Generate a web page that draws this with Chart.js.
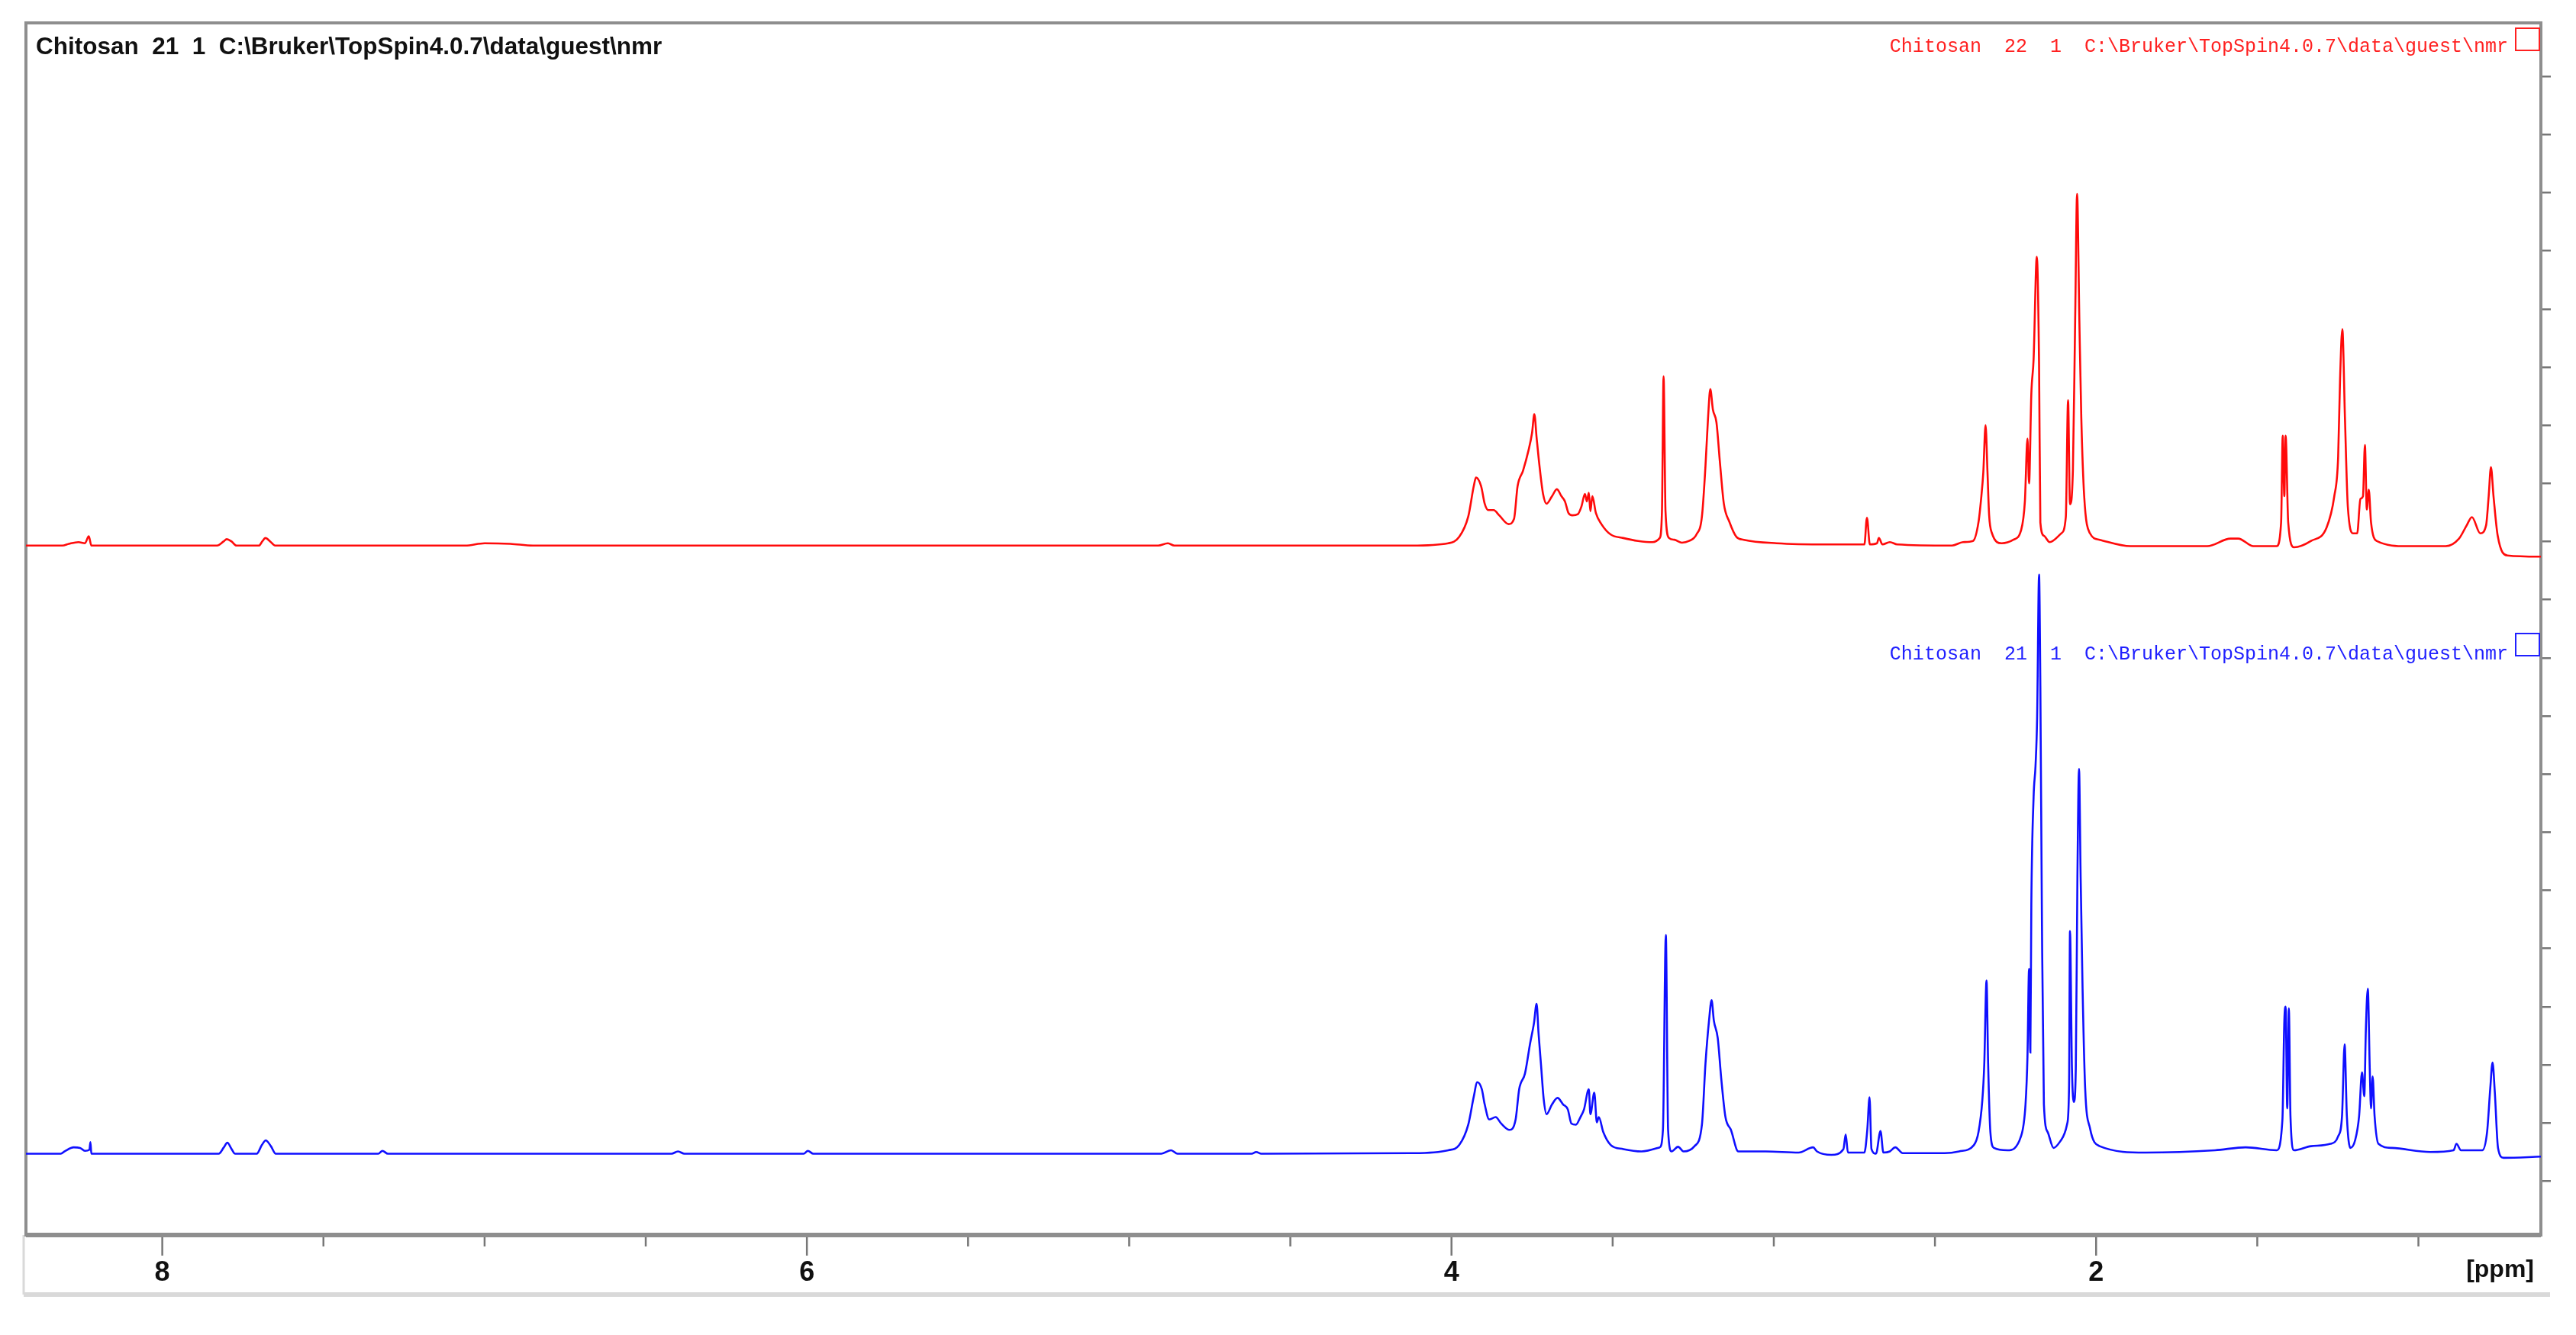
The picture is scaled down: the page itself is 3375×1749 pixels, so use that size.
<!DOCTYPE html>
<html lang="en">
<head>
<meta charset="UTF-8">
<title>Chitosan 1H NMR</title>
<script src="https://cdn.jsdelivr.net/npm/chart.js@4.4.0/dist/chart.umd.min.js"></script>
<style>
  html, body { margin: 0; padding: 0; background: #fff; }
</style>
</head>
<body>
<canvas id="nmr-chart" width="3375" height="1749"></canvas>
<script>
// spectrum of sample 22 (red, upper trace) - chemical shift in ppm, intensity in axis units
const redPpm = [8.423, 8.31, 8.29, 8.26, 8.24, 8.228, 8.22, 7.83, 7.81, 7.80, 7.785, 7.77, 7.70, 7.69, 7.68, 7.665, 7.65,
  7.06, 7.00, 6.92, 6.85, 4.91, 4.88, 4.86,
  4.124, 4.010, 3.976, 3.948, 3.931, 3.924, 3.908, 3.897, 3.886, 3.869, 3.852, 3.823, 3.806, 3.795, 3.778, 3.761,
  3.750, 3.743, 3.736, 3.727, 3.716, 3.705, 3.688, 3.673, 3.659, 3.648, 3.637, 3.625, 3.608, 3.597, 3.586, 3.580,
  3.574, 3.569, 3.563, 3.552, 3.535, 3.506, 3.467, 3.421, 3.376, 3.354, 3.347, 3.342, 3.336, 3.325, 3.308, 3.285,
  3.263, 3.240, 3.223, 3.212, 3.204, 3.197, 3.189, 3.178, 3.167, 3.155, 3.138, 3.116, 3.093, 2.991, 2.832, 2.719,
  2.711, 2.702, 2.680, 2.674, 2.663, 2.640, 2.617, 2.447, 2.413, 2.382, 2.365, 2.356, 2.350, 2.343, 2.337, 2.332,
  2.323, 2.293, 2.257, 2.233, 2.221, 2.213, 2.208, 2.201, 2.194, 2.184, 2.177, 2.173, 2.162, 2.144, 2.108, 2.094,
  2.087, 2.081, 2.072, 2.065, 2.059, 2.052, 2.046, 2.037, 2.019, 1.989, 1.893, 1.655, 1.583, 1.559, 1.512, 1.440,
  1.426, 1.421, 1.416, 1.412, 1.404, 1.386, 1.333, 1.285, 1.261, 1.249, 1.243, 1.236, 1.228, 1.219, 1.202, 1.190,
  1.180, 1.172, 1.166, 1.160, 1.154, 1.147, 1.130, 1.035, 0.915, 0.874, 0.850, 0.834, 0.808, 0.790, 0.782, 0.775,
  0.767, 0.754, 0.724, 0.620];
const redInt = [10.93, 10.93, 10.96, 10.99, 10.97, 11.09, 10.93, 10.93, 11.00, 11.04, 11.00, 10.93, 10.93, 11.00, 11.06, 11.00, 10.93,
  10.93, 10.97, 10.96, 10.93, 10.93, 10.97, 10.93,
  10.93, 10.97, 11.08, 11.43, 11.95, 12.10, 11.95, 11.65, 11.54, 11.54, 11.45, 11.30, 11.39, 11.95, 12.22, 12.57,
  12.87, 13.19, 12.79, 12.30, 11.82, 11.65, 11.78, 11.90, 11.78, 11.69, 11.49, 11.45, 11.47, 11.60, 11.82, 11.69,
  11.84, 11.52, 11.78, 11.49, 11.30, 11.12, 11.06, 11.01, 10.99, 11.06, 11.52, 13.84, 11.52, 11.06, 11.03, 10.98,
  11.01, 11.12, 11.43, 12.30, 13.13, 13.62, 13.27, 13.05, 12.35, 11.65, 11.34, 11.08, 11.03, 10.97, 10.95, 10.95,
  11.41, 10.95, 10.97, 11.06, 10.95, 10.99, 10.95, 10.93, 10.99, 11.01, 11.33, 11.78, 12.19, 13.00, 12.19, 11.46,
  11.14, 10.97, 11.03, 11.19, 11.69, 12.77, 12.00, 13.54, 14.13, 15.90, 14.04, 11.33, 11.10, 10.99, 11.14, 11.42,
  13.43, 11.64, 12.23, 14.81, 16.98, 14.81, 13.14, 11.78, 11.14, 11.03, 10.92, 10.92, 11.05, 11.05, 10.92, 10.92,
  11.33, 12.82, 11.78, 12.82, 11.33, 10.90, 11.01, 11.24, 11.78, 12.46, 13.81, 14.65, 13.14, 11.60, 11.14, 11.14,
  11.73, 11.78, 12.66, 11.55, 11.89, 11.33, 11.01, 10.92, 10.92, 11.05, 11.28, 11.42, 11.14, 11.28, 11.78, 12.28,
  11.78, 11.10, 10.76, 10.74];

// spectrum of sample 21 (blue, lower trace)
const bluePpm = [8.423, 8.315, 8.303, 8.275, 8.255, 8.240, 8.226, 8.223, 8.220, 7.825, 7.809, 7.798, 7.786, 7.774,
  7.707, 7.691, 7.679, 7.663, 7.648, 7.33, 7.317, 7.30, 6.42, 6.40, 6.38, 6.01, 5.997, 5.98, 4.90, 4.87, 4.85,
  4.62, 4.606, 4.59,
  4.124, 4.010, 3.976, 3.948, 3.931, 3.920, 3.906, 3.897, 3.883, 3.863, 3.846, 3.820, 3.801, 3.790, 3.772, 3.756,
  3.744, 3.736, 3.730, 3.722, 3.714, 3.705, 3.688, 3.671, 3.654, 3.639, 3.628, 3.614, 3.600, 3.589, 3.574, 3.569,
  3.557, 3.549, 3.543, 3.529, 3.506, 3.467, 3.410, 3.354, 3.344, 3.335, 3.328, 3.317, 3.297, 3.280, 3.246, 3.223,
  3.212, 3.201, 3.193, 3.186, 3.174, 3.163, 3.150, 3.133, 3.110, 3.025, 2.923, 2.878, 2.866, 2.821, 2.784, 2.777,
  2.770, 2.719, 2.710, 2.703, 2.697, 2.683, 2.669, 2.660, 2.640, 2.623, 2.600, 2.470, 2.425, 2.379,
  2.365, 2.353, 2.347, 2.340, 2.335, 2.328, 2.317, 2.275, 2.233, 2.219, 2.213, 2.208, 2.204, 2.201, 2.194, 2.188,
  2.183, 2.177, 2.173, 2.168, 2.162, 2.150, 2.132, 2.108, 2.090, 2.084, 2.081, 2.075, 2.069, 2.063, 2.058, 2.053,
  2.048, 2.042, 2.034, 2.019, 1.989, 1.846, 1.631, 1.536, 1.440, 1.422, 1.416, 1.412, 1.407, 1.402, 1.397, 1.386,
  1.333, 1.273, 1.249, 1.237, 1.229, 1.222, 1.211, 1.196, 1.184, 1.175, 1.168, 1.163, 1.157, 1.151, 1.147, 1.142,
  1.136, 1.124, 1.082, 0.963, 0.891, 0.882, 0.868, 0.802, 0.787, 0.777, 0.770, 0.763, 0.753, 0.736, 0.620];
const blueInt = [0.47, 0.47, 0.51, 0.58, 0.57, 0.52, 0.54, 0.67, 0.47, 0.47, 0.58, 0.66, 0.56, 0.47,
  0.47, 0.62, 0.70, 0.60, 0.47, 0.47, 0.52, 0.47, 0.47, 0.51, 0.47, 0.47, 0.52, 0.47, 0.47, 0.53, 0.47,
  0.47, 0.50, 0.47,
  0.48, 0.53, 0.62, 0.97, 1.45, 1.70, 1.58, 1.32, 1.06, 1.10, 0.99, 0.88, 1.06, 1.58, 1.85, 2.37,
  2.72, 3.05, 2.55, 1.98, 1.41, 1.15, 1.32, 1.43, 1.32, 1.23, 0.99, 0.97, 1.10, 1.23, 1.58, 1.15,
  1.52, 1.01, 1.10, 0.84, 0.62, 0.55, 0.51, 0.58, 0.88, 4.23, 0.88, 0.51, 0.59, 0.51, 0.60, 0.97,
  2.02, 2.76, 3.11, 2.76, 2.46, 1.76, 1.10, 0.88, 0.51, 0.51, 0.49, 0.58, 0.51, 0.45, 0.55, 0.80,
  0.49, 0.49, 0.88, 1.44, 0.55, 0.47, 0.86, 0.49, 0.51, 0.58, 0.48, 0.48, 0.51, 0.62,
  0.84, 1.39, 2.01, 3.45, 2.01, 0.84, 0.57, 0.53, 0.77, 1.32, 2.14, 3.65, 2.21, 4.75, 6.60, 7.14,
  7.97, 10.43, 8.51, 4.40, 1.32, 0.84, 0.57, 0.71, 0.98, 1.60, 4.30, 1.94, 1.36, 1.94, 5.23, 7.09,
  5.23, 3.31, 1.60, 0.91, 0.60, 0.49, 0.53, 0.58, 0.53, 1.05, 2.76, 3.00, 1.25, 2.97, 1.12, 0.53,
  0.60, 0.64, 0.77, 1.12, 2.35, 1.12, 0.57, 0.71, 1.12, 1.87, 1.46, 2.62, 3.31, 1.94, 1.25, 1.80,
  1.12, 0.64, 0.57, 0.50, 0.53, 0.64, 0.53, 0.53, 0.84, 1.60, 2.04, 1.53, 0.57, 0.40, 0.42];

// axis ticks
const ppmTicks = [1, 1.5, 2, 2.5, 3, 3.5, 4, 4.5, 5, 5.5, 6, 6.5, 7, 7.5, 8];
const ppmLabels = [2, 4, 6, 8];
const intTicks = [0, 1, 2, 3, 4, 5, 6, 7, 8, 9, 10, 11, 12, 13, 14, 15, 16, 17, 18, 19];

const titleText = 'Chitosan  21  1  C:\\Bruker\\TopSpin4.0.7\\data\\guest\\nmr';
const redLabel = 'Chitosan  22  1  C:\\Bruker\\TopSpin4.0.7\\data\\guest\\nmr';
const blueLabel = 'Chitosan  21  1  C:\\Bruker\\TopSpin4.0.7\\data\\guest\\nmr';

const toPoints = (xs, ys) => xs.map((x, i) => ({ x: x, y: ys[i] }));

const frameColor = '#8e8e8e';

// frame, ppm ticks and the TopSpin style labels
const topspinDecor = {
  id: 'topspinDecor',
  beforeDatasetsDraw(chart) {
    const c = chart.ctx;
    const a = chart.chartArea;
    const xs = chart.scales.x;
    c.save();
    // light outer border below the axis
    c.strokeStyle = '#d9d9d9';
    c.lineWidth = 6;
    c.beginPath();
    c.moveTo(a.left - 3, a.bottom + 78);
    c.lineTo(a.right + 12, a.bottom + 78);
    c.stroke();
    c.lineWidth = 3;
    c.beginPath();
    c.moveTo(a.left - 3, a.bottom);
    c.lineTo(a.left - 3, a.bottom + 78);
    c.stroke();

    c.strokeStyle = frameColor;
    c.lineWidth = 4;
    c.strokeRect(a.left, a.top, a.right - a.left, a.bottom - a.top);
    c.lineWidth = 6;
    c.beginPath();
    c.moveTo(a.left, a.bottom);
    c.lineTo(a.right, a.bottom);
    c.stroke();

    // ppm ticks, long at labelled values
    c.lineWidth = 2.5;
    c.strokeStyle = '#777';
    ppmTicks.forEach(v => {
      const px = xs.getPixelForValue(v);
      const len = ppmLabels.includes(v) ? 24 : 12;
      c.beginPath();
      c.moveTo(px, a.bottom + 3);
      c.lineTo(px, a.bottom + 3 + len);
      c.stroke();
    });

    c.fillStyle = '#111';
    c.font = 'bold 32px "Liberation Sans", Arial, sans-serif';
    c.textAlign = 'right';
    c.textBaseline = 'middle';
    c.fillText('[ppm]', a.right - 9, a.bottom + 46);

    c.textAlign = 'left';
    c.font = 'bold 31.5px "Liberation Sans", Arial, sans-serif';
    c.fillText(titleText, a.left + 13, a.top + 32);

    c.font = '25px "Liberation Mono", "Courier New", monospace';
    c.textAlign = 'right';
    c.fillStyle = '#ff2020';
    c.fillText(redLabel, a.right - 43, a.top + 31);
    c.strokeStyle = '#ff2020';
    c.lineWidth = 2;
    c.strokeRect(a.right - 33, a.top + 7, 31, 29);

    c.fillStyle = '#2020ff';
    c.fillText(blueLabel, a.right - 43, a.top + 827);
    c.strokeStyle = '#2020ff';
    c.strokeRect(a.right - 33, a.top + 800, 31, 29);
    c.restore();
  }
};

const ctx = document.getElementById('nmr-chart').getContext('2d');
const chart = new Chart(ctx, {
  type: 'line',
  data: {
    datasets: [{
      label: 'Chitosan 22',
      data: toPoints(redPpm, redInt),
      borderColor: 'rgb(255, 10, 10)',
      borderWidth: 2.6,
      pointRadius: 0,
      cubicInterpolationMode: 'monotone',
      fill: false
    }, {
      label: 'Chitosan 21',
      data: toPoints(bluePpm, blueInt),
      borderColor: 'rgb(15, 15, 255)',
      borderWidth: 2.6,
      pointRadius: 0,
      cubicInterpolationMode: 'monotone',
      fill: false
    }]
  },
  options: {
    responsive: false,
    animation: false,
    devicePixelRatio: 1,
    layout: { padding: { left: 34, top: 30, right: 0, bottom: 0 } },
    plugins: {
      legend: { display: false },
      tooltip: { enabled: false }
    },
    scales: {
      x: {
        type: 'linear',
        reverse: true,
        min: 0.62,
        max: 8.423,
        border: { display: false },
        grid: { display: false, drawTicks: false },
        afterBuildTicks: s => { s.ticks = ppmTicks.map(v => ({ value: v })); },
        afterFit: s => { s.height = 131; },
        ticks: {
          autoSkip: false,
          maxRotation: 0,
          padding: 28,
          color: '#111',
          font: { family: '"Liberation Sans", Arial, sans-serif', size: 36, weight: 'bold' },
          callback: v => ppmLabels.includes(v) ? String(v) : ''
        }
      },
      y: {
        type: 'linear',
        position: 'right',
        min: -0.928,
        max: 19.92,
        border: { display: false },
        grid: { drawOnChartArea: false, drawTicks: true, tickLength: 13, color: '#777', lineWidth: 2.5 },
        afterBuildTicks: s => { s.ticks = intTicks.map(v => ({ value: v })); },
        afterFit: s => { s.width = 46; },
        ticks: { display: false }
      }
    }
  },
  plugins: [topspinDecor]
});
</script>
</body>
</html>
